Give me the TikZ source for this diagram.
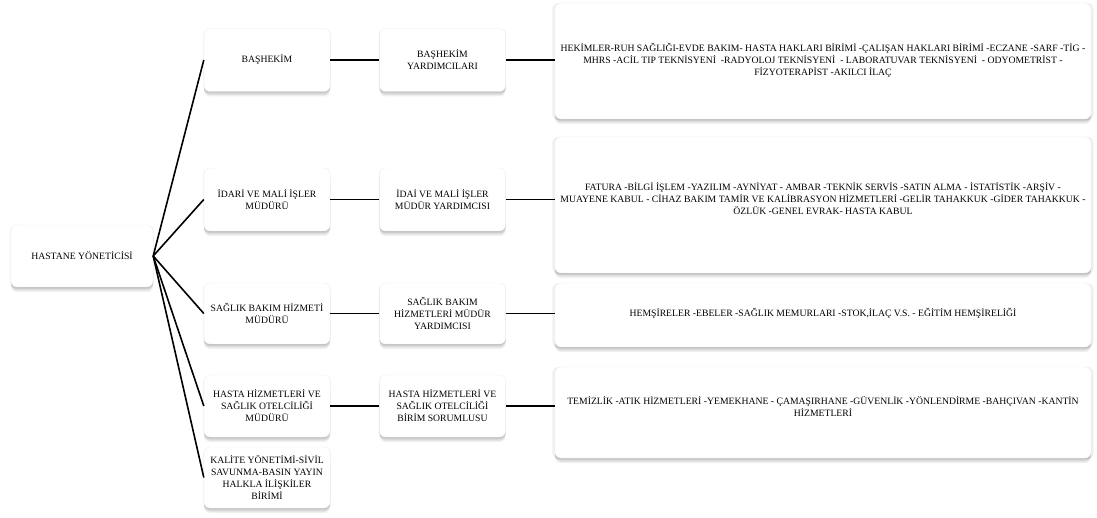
\documentclass[tikz,border=0pt]{standalone}
\usepackage{fontspec}
\setmainfont{Liberation Serif}
\usetikzlibrary{shadows}
\begin{document}
\begin{tikzpicture}[x=1pt,y=-1pt,
  softshadow/.style={
    general shadow={fill=black,opacity=0.06,shadow yshift=-0.5pt,shadow scale=1.01},
    general shadow={fill=black,opacity=0.08,shadow yshift=-2pt},
    general shadow={fill=black,opacity=0.08,shadow yshift=-3.5pt},
    general shadow={fill=black,opacity=0.06,shadow yshift=-5pt}},
  box/.style={draw=black!6,fill=white,rounded corners=6pt,align=center,
    inner sep=2pt,font=\fontsize{9.7}{12}\selectfont,softshadow},
  lvl/.style={box,minimum width=126pt},
  big/.style={box,minimum width=536pt},
  txt/.style={align=center,font=\fontsize{9.7}{12}\selectfont},
  link/.style={line width=1.6pt,black}]
\useasboundingbox (0,0) rectangle (1097,518);

% chief
\node[box,minimum width=142pt,minimum height=62pt] (root) at (82,256) {HASTANE YÖNETİCİSİ};

% directors
\node[lvl,minimum height=63pt] (m1) at (267,60) {BAŞHEKİM};
\node[lvl,minimum height=63pt] (m2) at (267,199.5) {İDARİ VE MALİ İŞLER\\MÜDÜRÜ};
\node[lvl,minimum height=61pt] (m3) at (267,313.5) {SAĞLIK BAKIM HİZMETİ\\MÜDÜRÜ};
\node[lvl,minimum height=62pt] (m4) at (267,406) {HASTA HİZMETLERİ VE\\SAĞLIK OTELCİLİĞİ\\MÜDÜRÜ};
\node[lvl,minimum height=61pt] (m5) at (267,477.5) {KALİTE YÖNETİMİ-SİVİL\\SAVUNMA-BASIN YAYIN\\HALKLA İLİŞKİLER\\BİRİMİ};

% assistants
\node[lvl,minimum height=63pt] (y1) at (442.5,60) {BAŞHEKİM\\YARDIMCILARI};
\node[lvl,minimum height=63pt] (y2) at (442.5,199.5) {İDAİ VE MALİ İŞLER\\MÜDÜR YARDIMCISI};
\node[lvl,minimum height=61pt] (y3) at (442.5,313.5) {SAĞLIK BAKIM\\HİZMETLERİ MÜDÜR\\YARDIMCISI};
\node[lvl,minimum height=62pt] (y4) at (442.5,406) {HASTA HİZMETLERİ VE\\SAĞLIK OTELCİLİĞİ\\BİRİM SORUMLUSU};

% units
\node[big,minimum height=116pt] (u1) at (823,61) {};
\node[big,minimum height=136pt] (u2) at (823,205) {};
\node[big,minimum height=64pt] (u3) at (823,315) {};
\node[big,minimum height=91pt] (u4) at (823,412.5) {};

\node[txt] (t1) at (823,60) {HEKİMLER-RUH SAĞLIĞI-EVDE BAKIM- HASTA HAKLARI BİRİMİ -ÇALIŞAN HAKLARI BİRİMİ -ECZANE -SARF -TİG -\\MHRS -ACİL TIP TEKNİSYENİ \ -RADYOLOJ TEKNİSYENİ \ - LABORATUVAR TEKNİSYENİ \ - ODYOMETRİST -\\FİZYOTERAPİST -AKILCI İLAÇ};
\node[txt] (t2) at (823,199) {FATURA -BİLGİ İŞLEM -YAZILIM -AYNİYAT - AMBAR -TEKNİK SERVİS -SATIN ALMA - İSTATİSTİK -ARŞİV -\\MUAYENE KABUL - CİHAZ BAKIM TAMİR VE KALİBRASYON HİZMETLERİ -GELİR TAHAKKUK -GİDER TAHAKKUK -\\ÖZLÜK -GENEL EVRAK- HASTA KABUL};
\node[txt] (t3) at (823,313.5) {HEMŞİRELER -EBELER -SAĞLIK MEMURLARI -STOK,İLAÇ V.S. - EĞİTİM HEMŞİRELİĞİ};
\node[txt] (t4) at (823,406) {TEMİZLİK -ATIK HİZMETLERİ -YEMEKHANE - ÇAMAŞIRHANE -GÜVENLİK -YÖNLENDİRME -BAHÇIVAN -KANTİN\\HİZMETLERİ};

% connectors
\foreach \i in {1,...,5} \draw[link] (root.east) -- (m\i.west);
\foreach \i in {1,...,4} {
  \draw[link] (m\i.east) -- (y\i.west);
  \draw[link] (y\i.east) -- (y\i.east -| u\i.west);
}
\end{tikzpicture}
\end{document}
